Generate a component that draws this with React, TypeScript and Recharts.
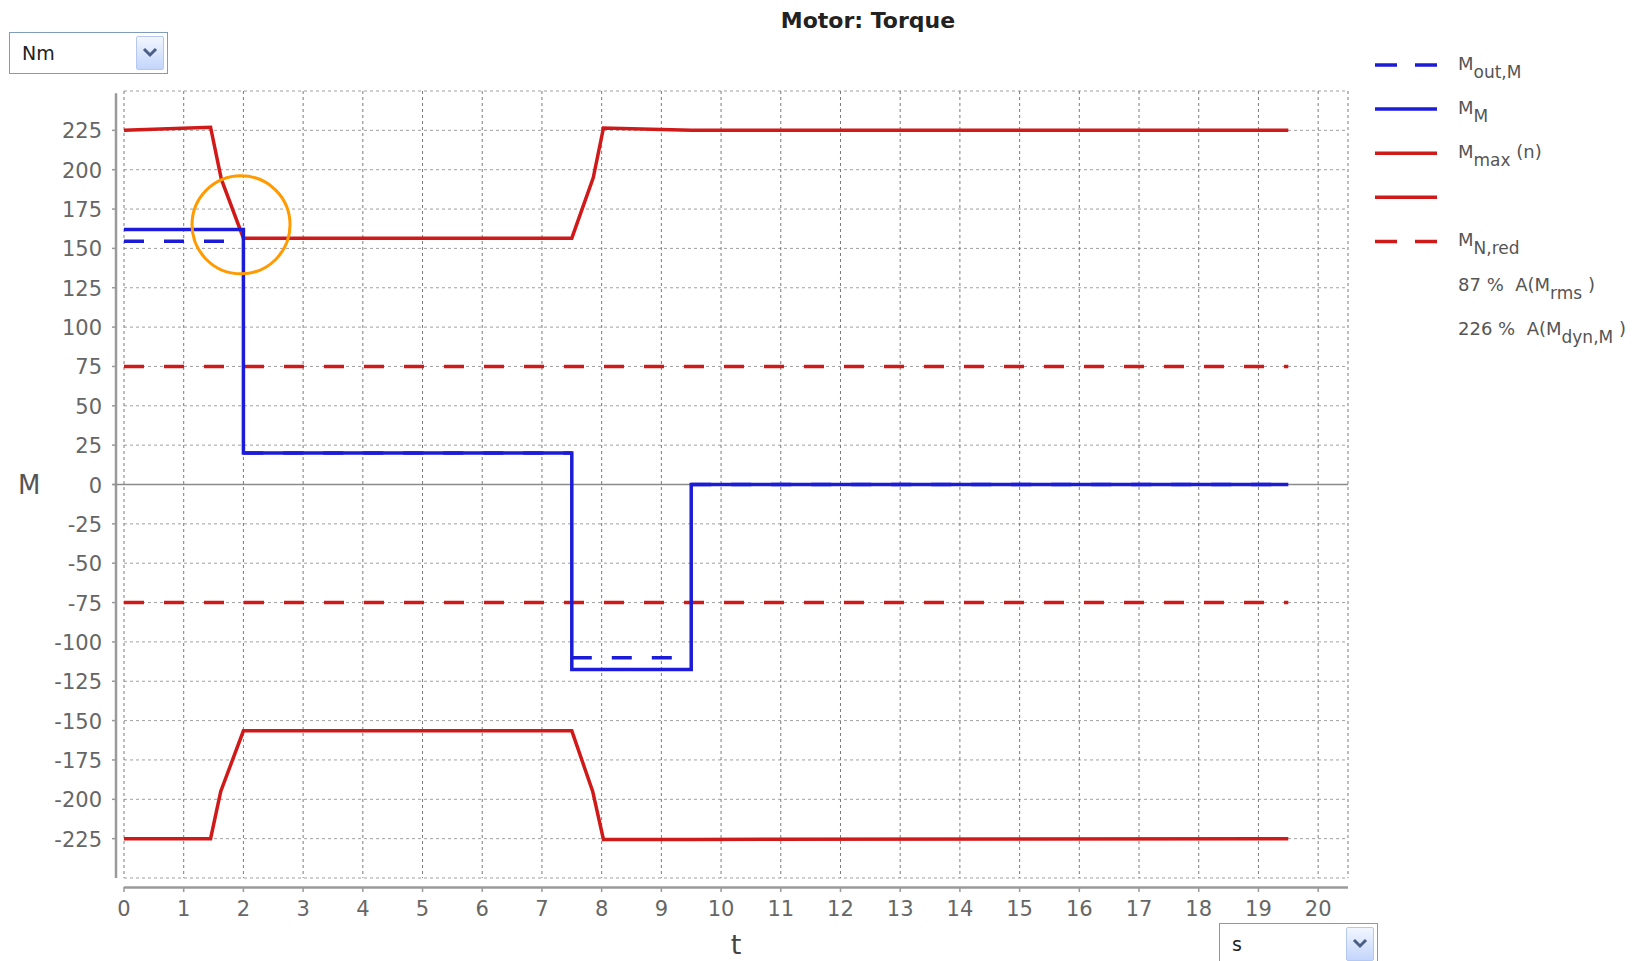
import React from "react";
import {
  LineChart,
  Line,
  XAxis,
  YAxis,
  CartesianGrid,
  ReferenceLine,
  ReferenceDot,
  Label
} from "recharts";

const FONT = "'DejaVu Sans', Verdana, sans-serif";

// axis ticks
const timeTicks = [0, 1, 2, 3, 4, 5, 6, 7, 8, 9, 10, 11, 12, 13, 14, 15, 16, 17, 18, 19, 20];
const torqueTicks = [
  -225, -200, -175, -150, -125, -100, -75, -50, -25, 0, 25, 50, 75, 100, 125, 150, 175, 200, 225
];

// M out,M (dashed blue) - drawn piecewise, null = pen up
const outT = [0, 2, 2, 2, 7.5, 7.5, 7.5, 9.5, 9.5, 9.5, 19.5];
const outM = [154.5, 154.5, null, 20, 20, null, -110, -110, null, 0, 0];

// M M (solid blue)
const motT = [0, 2, 2, 7.5, 7.5, 9.5, 9.5, 19.5];
const motM = [162, 162, 20, 20, -117.5, -117.5, 0, 0];

// M max(n), upper and lower limit
const maxT = [0, 1.45, 1.63, 2, 7.5, 7.86, 8.03, 9.5, 19.5];
const maxM = [225, 227, 194, 156.5, 156.5, 195, 226.5, 225, 225];
const minT = [0, 1.45, 1.62, 2, 7.5, 7.85, 8.03, 9.5, 19.5];
const minM = [-225, -225, -195, -156.5, -156.5, -195, -225.5, -225.5, -225];

// M N,red
const nredT = [0, 19.5];
const nredUpM = [75, 75];
const nredLoM = [-75, -75];

// highlighted spot (orange ring)
const markT = 1.96;
const markM = 165;

// utilisation figures in the legend
const rmsPercent = 87;
const dynPercent = 226;

const BLUE = "#1c1cd8";
const RED = "#d01a1a";
const AXIS = "#9a9a9a";

const toRows = (t: number[], m: (number | null)[]) => t.map((x, i) => ({ t: x, m: m[i] }));

const legendItems = [
  { main: "M", sub: "out,M", tail: "", color: BLUE, dash: "22 18" },
  { main: "M", sub: "M", tail: "", color: BLUE, dash: "" },
  { main: "M", sub: "max", tail: " (n)", color: RED, dash: "" },
  { main: "", sub: "", tail: "", color: RED, dash: "" },
  { main: "M", sub: "N,red", tail: "", color: RED, dash: "22 18" }
];

const ratingItems = [
  { pct: rmsPercent, sub: "rms" },
  { pct: dynPercent, sub: "dyn,M" }
];

function renderXTick(props: any) {
  const { x, y, payload } = props;
  return (
    <g>
      <line x1={x} x2={x} y1={y + 9} y2={y + 14} stroke={AXIS} strokeWidth={1.5} />
      <text x={x} y={y + 38} textAnchor="middle" fill="#666" fontSize={21} fontFamily={FONT}>
        {payload.value}
      </text>
    </g>
  );
}

function renderYTick(props: any) {
  const { x, y, payload } = props;
  return (
    <g>
      <line x1={x + 10} x2={x + 14} y1={y} y2={y} stroke={AXIS} strokeWidth={1.5} />
      <text x={x} y={y + 8} textAnchor="end" fill="#666" fontSize={21} fontFamily={FONT}>
        {payload.value}
      </text>
    </g>
  );
}

function Combo({ left, top, text }: { left: number; top: number; text: string }) {
  return (
    <div
      style={{
        position: "absolute",
        left,
        top,
        width: 159,
        height: 42,
        boxSizing: "border-box",
        border: "1px solid #7f9db9",
        background: "#fff",
        fontFamily: FONT
      }}
    >
      <span style={{ position: "absolute", left: 12, top: 9, fontSize: 19, color: "#222" }}>{text}</span>
      <div
        style={{
          position: "absolute",
          right: 3,
          top: 3,
          width: 28,
          height: 34,
          boxSizing: "border-box",
          border: "1px solid #b4c8f2",
          borderRadius: 2,
          background: "linear-gradient(#f2f6ff, #c3d5fb)"
        }}
      >
        <svg width={26} height={32} style={{ display: "block" }}>
          <path d="M7 12 L13 18 L19 12" fill="none" stroke="#4a5f86" strokeWidth={3} />
        </svg>
      </div>
    </div>
  );
}

function LegendPanel() {
  const rowY = (i: number) => 65 + i * 44.1;
  return (
    <svg
      width={1651}
      height={961}
      style={{ position: "absolute", left: 0, top: 0, pointerEvents: "none" }}
      fontFamily={FONT}
    >
      {legendItems.map((it, i) => (
        <g key={i}>
          <line
            x1={1375}
            x2={1437}
            y1={rowY(i)}
            y2={rowY(i)}
            stroke={it.color}
            strokeWidth={3.5}
            strokeDasharray={it.dash || undefined}
          />
          {it.main && (
            <text x={1458} y={rowY(i) + 5} fill="#555" fontSize={18} style={{ whiteSpace: "pre" }}>
              {it.main}
              <tspan dy={8} fontSize={17}>{it.sub}</tspan>
              {it.tail && <tspan dy={-8}>{it.tail}</tspan>}
            </text>
          )}
        </g>
      ))}
      {ratingItems.map((r, j) => (
        <text
          key={"r" + j}
          x={1458}
          y={rowY(5 + j) + 5}
          fill="#555"
          fontSize={18}
          style={{ whiteSpace: "pre" }}
        >
          {r.pct + " %  A(M"}
          <tspan dy={8} fontSize={17}>{r.sub}</tspan>
          <tspan dy={-8}>{" )"}</tspan>
        </text>
      ))}
    </svg>
  );
}

export default function App() {
  return (
    <div
      style={{
        position: "fixed",
        left: 0,
        top: 0,
        width: 1651,
        height: 961,
        overflow: "hidden",
        background: "#fff",
        fontFamily: FONT
      }}
    >
      <div
        style={{
          position: "absolute",
          left: 718,
          top: 10,
          width: 300,
          textAlign: "center",
          fontSize: 22,
          lineHeight: "22px",
          fontWeight: "bold",
          color: "#222"
        }}
      >
        Motor: Torque
      </div>

      <Combo left={9} top={32} text="Nm" />

      <div style={{ position: "absolute", left: 0, top: 0 }}>
        <LineChart width={1651} height={961} margin={{ top: 91, right: 303, bottom: 43, left: 0 }}>
          <CartesianGrid stroke="#a0a0a0" strokeDasharray="3 3" vertical={false} />
          <CartesianGrid stroke="#7a7a7a" strokeDasharray="3 3" horizontal={false} />
          <XAxis
            type="number"
            dataKey="t"
            domain={[0, 20.5]}
            ticks={timeTicks}
            interval={0}
            height={40}
            axisLine={false}
            tickLine={false}
            tickSize={0}
            tickMargin={0}
            tick={renderXTick}
          >
            <Label value="t" position="bottom" offset={17} fill="#444" fontSize={27} fontFamily={FONT} />
          </XAxis>
          <YAxis
            type="number"
            domain={[-250, 250]}
            ticks={torqueTicks}
            interval={0}
            width={124}
            axisLine={false}
            tickLine={false}
            tickSize={0}
            tickMargin={22}
            tick={renderYTick}
          >
            <Label value="M" position="insideLeft" offset={18} fill="#555" fontSize={26} fontFamily={FONT} />
          </YAxis>

          {/* offset axis lines and zero line */}
          <ReferenceLine
            segment={[{ x: 0, y: -256 }, { x: 20.5, y: -256 }]}
            stroke={AXIS}
            strokeWidth={2.5}
            ifOverflow="visible"
          />
          <ReferenceLine
            segment={[{ x: -0.134, y: 248.5 }, { x: -0.134, y: -250 }]}
            stroke={AXIS}
            strokeWidth={2.5}
            ifOverflow="visible"
          />
          <ReferenceLine
            segment={[{ x: -0.19, y: 0 }, { x: 20.5, y: 0 }]}
            stroke="#8a8a8a"
            strokeWidth={1.5}
            ifOverflow="visible"
          />

          <Line
            data={toRows(nredT, nredUpM)}
            dataKey="m"
            name="MN,red"
            stroke={RED}
            strokeWidth={3.5}
            strokeDasharray="20 20"
            dot={false}
            isAnimationActive={false}
          />
          <Line
            data={toRows(nredT, nredLoM)}
            dataKey="m"
            name="MN,red lower"
            stroke={RED}
            strokeWidth={3.5}
            strokeDasharray="20 20"
            dot={false}
            legendType="none"
            isAnimationActive={false}
          />
          <Line
            data={toRows(maxT, maxM)}
            dataKey="m"
            name="Mmax(n)"
            stroke={RED}
            strokeWidth={3.5}
            dot={false}
            isAnimationActive={false}
          />
          <Line
            data={toRows(minT, minM)}
            dataKey="m"
            name="Mmin(n)"
            stroke={RED}
            strokeWidth={3.5}
            dot={false}
            isAnimationActive={false}
          />
          <Line
            data={toRows(outT, outM)}
            dataKey="m"
            name="Mout,M"
            stroke={BLUE}
            strokeWidth={3.5}
            strokeDasharray="20 20"
            dot={false}
            connectNulls={false}
            isAnimationActive={false}
          />
          <Line
            data={toRows(motT, motM)}
            dataKey="m"
            name="MM"
            stroke={BLUE}
            strokeWidth={3.5}
            dot={false}
            isAnimationActive={false}
          />

          <ReferenceDot
            x={markT}
            y={markM}
            r={49}
            fill="none"
            stroke="#ff9a00"
            strokeWidth={3}
            ifOverflow="visible"
          />
        </LineChart>
      </div>

      <LegendPanel />

      <Combo left={1219} top={923} text="s" />
    </div>
  );
}
